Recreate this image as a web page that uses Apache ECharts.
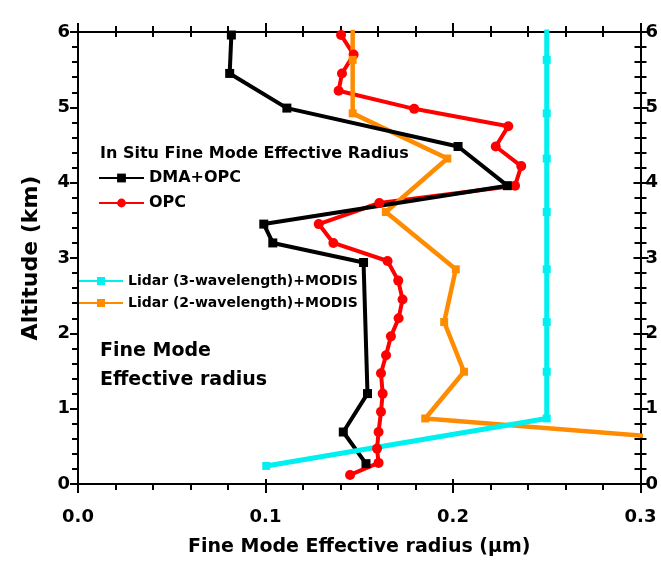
<!DOCTYPE html>
<html>
<head>
<meta charset="utf-8">
<script src="https://cdn.jsdelivr.net/npm/echarts@6/dist/echarts.min.js"></script>
<style>
  html, body { margin: 0; padding: 0; background: #fff; }
  #chart { width: 661px; height: 566px; }
</style>
</head>
<body>
<div id="chart"></div>
<script>
  // in situ retrievals (DMA+OPC, OPC), radius in um, altitude in km
  const dmaRadius = [0.0818, 0.0809, 0.1114, 0.2027, 0.2290, 0.0991, 0.1039, 0.1523, 0.1544, 0.1415, 0.1536]
  const dmaAlt = [5.96, 5.45, 4.99, 4.48, 3.96, 3.45, 3.20, 2.94, 1.20, 0.69, 0.27]

  const opcRadius = [0.1403, 0.1470, 0.1408, 0.1390, 0.1793, 0.2295, 0.2228, 0.2364, 0.2331, 0.1607,
    0.1284, 0.1362, 0.1651, 0.1708, 0.1731, 0.1710, 0.1669, 0.1643, 0.1616, 0.1625,
    0.1616, 0.1603, 0.1595, 0.1603, 0.1451]
  const opcAlt = [5.96, 5.70, 5.45, 5.22, 4.98, 4.75, 4.48, 4.22, 3.96, 3.73,
    3.45, 3.20, 2.96, 2.70, 2.45, 2.20, 1.96, 1.71, 1.47, 1.20,
    0.96, 0.69, 0.47, 0.28, 0.12]

  // lidar + MODIS retrievals share the same altitudes
  const lidarAlt = [6.25, 5.63, 4.92, 4.32, 3.61, 2.85, 2.15, 1.49, 0.87, 0.24]
  const lidar3Radius = [0.25, 0.25, 0.25, 0.25, 0.25, 0.25, 0.25, 0.25, 0.25, 0.1004]
  const lidar2Radius = [0.1465, 0.1465, 0.1465, 0.1970, 0.1642, 0.2015, 0.1953, 0.2059, 0.1852, 0.505]

  const xTicks = [0, 0.1, 0.2, 0.3]
  const yTicks = [0, 1, 2, 3, 4, 5, 6]

  const FONT = 'DejaVu Sans'
  const toPairs = (xs, ys) => xs.map((x, i) => [x, ys[i]])

  const labelStyle = {
    color: '#000',
    fontSize: 18,
    fontWeight: 'bold',
    fontFamily: FONT,
  }

  // one helper for every frame side, so ticks can cross the line (inside + outside copies)
  function xAxisOf(position, inside, withLabels) {
    return {
      type: 'value',
      position: position,
      min: xTicks[0],
      max: xTicks[xTicks.length - 1],
      interval: 0.1,
      axisLine: { onZero: false, lineStyle: { color: '#000', width: 2 } },
      axisTick: { show: true, inside: inside, length: inside ? 5 : 9, lineStyle: { color: '#000', width: 2 } },
      minorTick: { show: !inside || position === 'top', splitNumber: 5, length: inside ? 5 : 6, lineStyle: { color: '#000', width: 2 } },
      axisLabel: withLabels ? Object.assign({ margin: 24, formatter: (v) => v.toFixed(1) }, labelStyle) : { show: false },
      splitLine: { show: false },
    }
  }

  function yAxisOf(position, inside, withLabels) {
    return {
      type: 'value',
      position: position,
      min: yTicks[0],
      max: yTicks[yTicks.length - 1],
      interval: 1,
      axisLine: { onZero: false, lineStyle: { color: '#000', width: 2 } },
      axisTick: { show: true, inside: inside, length: inside ? 7 : 8, lineStyle: { color: '#000', width: 2 } },
      minorTick: { show: true, splitNumber: 5, length: 6, lineStyle: { color: '#000', width: 2 } },
      axisLabel: withLabels ? Object.assign({ margin: position === 'left' ? 8 : 5 }, labelStyle) : { show: false },
      splitLine: { show: false },
    }
  }

  const bottomAxis = xAxisOf('bottom', false, true)
  bottomAxis.name = 'Fine Mode Effective radius (μm)'
  bottomAxis.nameLocation = 'middle'
  bottomAxis.nameGap = 54
  bottomAxis.nameTextStyle = { color: '#000', fontSize: 19, fontWeight: 'bold', fontFamily: FONT }

  const leftAxis = yAxisOf('left', false, true)
  leftAxis.name = 'Altitude (km)'
  leftAxis.nameLocation = 'middle'
  leftAxis.nameGap = 36
  leftAxis.nameTextStyle = { color: '#000', fontSize: 22, fontWeight: 'bold', fontFamily: FONT }

  const chart = echarts.init(document.getElementById('chart'))
  chart.setOption({
    animation: false,
    backgroundColor: '#fff',
    grid: { left: 78, right: 19, top: 32, bottom: 82, containLabel: false },
    xAxis: [
      bottomAxis,
      xAxisOf('bottom', true, false),
      xAxisOf('top', false, false),
      xAxisOf('top', true, false),
    ],
    yAxis: [
      leftAxis,
      yAxisOf('right', false, true),
      yAxisOf('right', true, false),
    ],
    legend: [
      {
        data: ['DMA+OPC', 'OPC'],
        orient: 'vertical',
        left: 98,
        top: 170,
        padding: 0,
        itemWidth: 45,
        itemHeight: 11,
        itemGap: 9,
        selectedMode: false,
        textStyle: { color: '#000', fontSize: 16, lineHeight: 16, fontWeight: 'bold', fontFamily: FONT },
      },
      {
        data: ['Lidar (3-wavelength)+MODIS', 'Lidar (2-wavelength)+MODIS'],
        orient: 'vertical',
        left: 78,
        top: 274,
        padding: 0,
        itemWidth: 44,
        itemHeight: 10,
        itemGap: 8,
        selectedMode: false,
        textStyle: { color: '#000', fontSize: 14, lineHeight: 14, fontWeight: 'bold', fontFamily: FONT },
      },
    ],
    graphic: [
      {
        type: 'text', left: 100, top: 146,
        style: { text: 'In Situ Fine Mode Effective Radius', fill: '#000', fontSize: 16, fontWeight: 'bold', fontFamily: FONT },
      },
      {
        type: 'text', left: 100, top: 342,
        style: { text: 'Fine Mode', fill: '#000', fontSize: 19, fontWeight: 'bold', fontFamily: FONT },
      },
      {
        type: 'text', left: 100, top: 371,
        style: { text: 'Effective radius', fill: '#000', fontSize: 19, fontWeight: 'bold', fontFamily: FONT },
      },
    ],
    series: [
      {
        name: 'OPC',
        type: 'line',
        data: toPairs(opcRadius, opcAlt),
        symbol: 'circle',
        symbolSize: 10,
        lineStyle: { color: '#ff0000', width: 4 },
        itemStyle: { color: '#ff0000' },
      },
      {
        name: 'Lidar (2-wavelength)+MODIS',
        type: 'line',
        data: toPairs(lidar2Radius, lidarAlt),
        symbol: 'rect',
        symbolSize: 8,
        lineStyle: { color: '#ff8c00', width: 4.5 },
        itemStyle: { color: '#ff8c00' },
      },
      {
        name: 'DMA+OPC',
        type: 'line',
        data: toPairs(dmaRadius, dmaAlt),
        symbol: 'rect',
        symbolSize: 9,
        lineStyle: { color: '#000', width: 4 },
        itemStyle: { color: '#000' },
      },
      {
        name: 'Lidar (3-wavelength)+MODIS',
        type: 'line',
        data: toPairs(lidar3Radius, lidarAlt),
        symbol: 'rect',
        symbolSize: 8,
        lineStyle: { color: '#00f0f0', width: 5 },
        itemStyle: { color: '#00f0f0' },
      },
    ],
  })
</script>
</body>
</html>
